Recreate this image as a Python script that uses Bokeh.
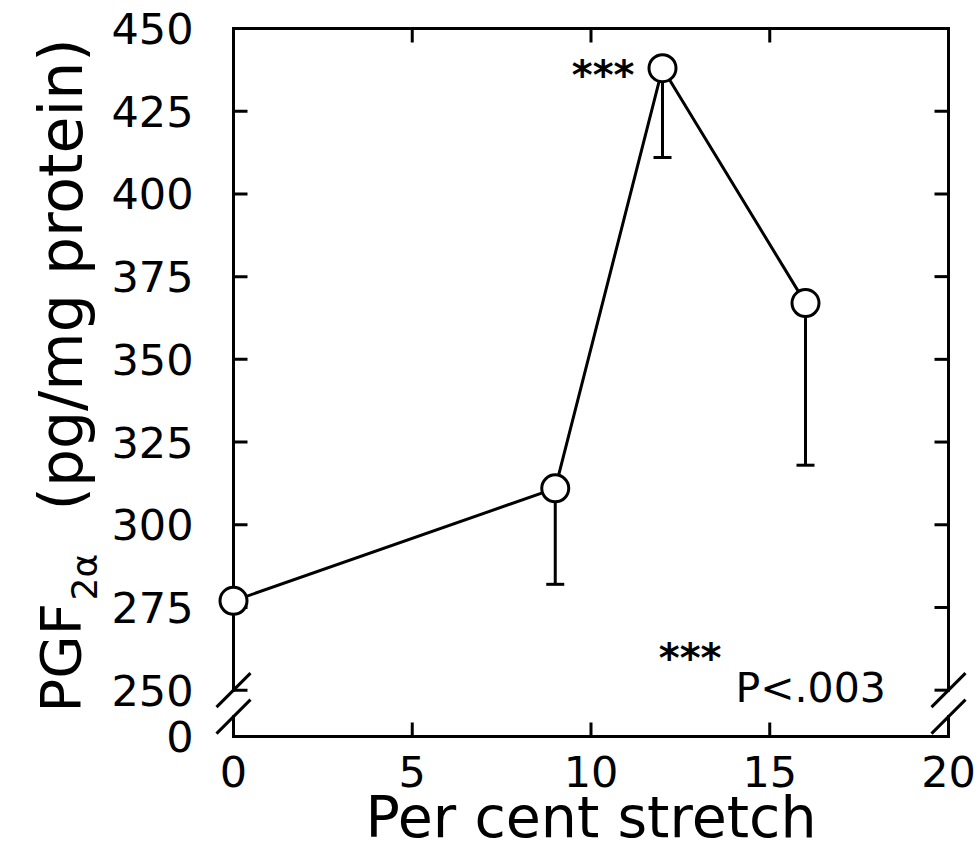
from math import pi

from bokeh.plotting import figure
from bokeh.models import Range1d, FixedTicker, Label, LinearAxis
from bokeh.core.properties import value
from bokeh.embed import file_html
from bokeh.resources import INLINE

# Mean PGF2α content at each stretch level and the lower end of its error bar
stretch = [0, 9, 12, 16]
pgf = [277, 311, 438, 367]
pgf_err_low = [277, 282, 411, 318]

x_ticks = [0, 5, 10, 15, 20]
y_ticks = [250, 275, 300, 325, 350, 375, 400, 425, 450]

X_MIN, X_MAX = 0, 20
Y_TOP = 450
Y_BREAK = 250      # lowest value on the continuous part of the y axis
Y_ZERO = 236       # plotting position of the "0" tick below the break
Y_RESUME = 242     # where the axis resumes under the break

# page geometry (pixels)
CANVAS_W, CANVAS_H = 979, 865
BOX_LEFT, BOX_TOP = 233, 28   # top-left corner of the boxed plot area
BOX_W, BOX_H = 715, 708

PX_X = BOX_W / (X_MAX - X_MIN)
PX_Y = BOX_H / (Y_TOP - Y_ZERO)

FONT = "DejaVu Sans"
INK = "black"
LW = 3


def at_x(px):
    """Page pixel column -> x data value."""
    return X_MIN + (px - BOX_LEFT) / PX_X


def at_y(py):
    """Page pixel row -> y data value."""
    return Y_TOP - (py - BOX_TOP) / PX_Y


# the frame fills the page; axes are pinned to the box edges
p = figure(
    frame_width=CANVAS_W,
    frame_height=CANVAS_H,
    x_range=Range1d(at_x(0), at_x(CANVAS_W)),
    y_range=Range1d(at_y(CANVAS_H), at_y(0)),
    x_axis_location=None,
    y_axis_location=None,
    min_border=0,
    output_backend="svg",
    toolbar_location=None,
    outline_line_color=None,
    background_fill_color="white",
    border_fill_color="white",
)
p.grid.visible = False

xa = LinearAxis(fixed_location=Y_ZERO, bounds=(X_MIN, X_MAX))
p.add_layout(xa, "below")
xa.ticker = FixedTicker(ticks=x_ticks)
xa.major_label_standoff = 19
xa.axis_label = "Per cent stretch"
xa.axis_label_text_font = FONT
xa.axis_label_text_font_size = "57px"
xa.axis_label_text_font_style = "normal"
xa.axis_label_text_color = INK
xa.axis_label_standoff = -6

ya = LinearAxis(fixed_location=X_MIN, bounds=(Y_ZERO, Y_TOP))
p.add_layout(ya, "left")
ya.ticker = FixedTicker(ticks=[Y_ZERO] + y_ticks)
ya.major_label_overrides = {Y_ZERO: "0"}
ya.major_label_standoff = 40

# axes carry the tick labels; the box, ticks and breaks are drawn below
for ax in (xa, ya):
    ax.axis_line_color = None
    ax.major_tick_line_color = None
    ax.minor_tick_line_color = None
    ax.major_tick_in = 0
    ax.major_tick_out = 0
    ax.minor_tick_in = 0
    ax.minor_tick_out = 0
    ax.major_label_text_font = FONT
    ax.major_label_text_font_size = "43px"
    ax.major_label_text_color = INK

# box: full top and bottom edges, sides broken between Y_RESUME and Y_BREAK
bx0 = [X_MIN, X_MIN, X_MIN, X_MIN, X_MAX, X_MAX]
by0 = [Y_TOP, Y_ZERO, Y_TOP, Y_RESUME, Y_TOP, Y_RESUME]
bx1 = [X_MAX, X_MAX, X_MIN, X_MIN, X_MAX, X_MAX]
by1 = [Y_TOP, Y_ZERO, Y_BREAK, Y_ZERO, Y_BREAK, Y_ZERO]
p.segment(bx0, by0, bx1, by1, line_width=LW, line_color=INK, line_cap="square")

# axis-break slashes on both sides
SL = 17
sx = [X_MIN, X_MIN, X_MAX, X_MAX]
sy = [Y_BREAK, Y_RESUME, Y_BREAK, Y_RESUME]
p.segment([x - SL / PX_X for x in sx], [y - SL / PX_Y for y in sy],
          [x + SL / PX_X for x in sx], [y + SL / PX_Y for y in sy],
          line_width=LW, line_color=INK)

# inward ticks on all four sides
TL = 14
tx = [v for v in x_ticks if X_MIN < v < X_MAX]
p.segment(tx, [Y_ZERO] * len(tx), tx, [Y_ZERO + TL / PX_Y] * len(tx),
          line_width=LW, line_color=INK)
p.segment(tx, [Y_TOP] * len(tx), tx, [Y_TOP - TL / PX_Y] * len(tx),
          line_width=LW, line_color=INK)
ty = [v for v in y_ticks if v < Y_TOP]
p.segment([X_MIN] * len(ty), ty, [X_MIN + TL / PX_X] * len(ty), ty,
          line_width=LW, line_color=INK)
p.segment([X_MAX] * len(ty), ty, [X_MAX - TL / PX_X] * len(ty), ty,
          line_width=LW, line_color=INK)

# data: connecting line, downward error bars, open circles
p.line(stretch, pgf, line_width=LW, line_color=INK)
bars = [i for i in range(len(stretch)) if pgf_err_low[i] < pgf[i]]
bar_x = [stretch[i] for i in bars]
p.segment(bar_x, [pgf[i] for i in bars], bar_x, [pgf_err_low[i] for i in bars],
          line_width=LW, line_color=INK)
p.scatter(bar_x, [pgf_err_low[i] for i in bars], marker="dash", size=18,
          line_width=LW, line_color=INK)
p.scatter(stretch, pgf, marker="circle", size=27, fill_color="white",
          line_color=INK, line_width=LW)

# significance marks
peak = pgf.index(max(pgf))
p.add_layout(Label(x=stretch[peak], y=pgf[peak] - 7 / PX_Y, x_offset=-28,
                   text="***", text_align="right", text_baseline="middle",
                   text_font=FONT, text_font_size="40px",
                   text_font_style="bold", text_color=INK))
p.add_layout(Label(x=at_x(721), y=at_y(657), text="***", text_align="right",
                   text_baseline="middle", text_font=FONT,
                   text_font_size="40px", text_font_style="bold",
                   text_color=INK))
p.add_layout(Label(x=at_x(735), y=at_y(687), text="P<.003", text_align="left",
                   text_baseline="alphabetic", text_font=FONT,
                   text_font_size="41px", text_color=INK))

# rotated y title: PGF with subscript 2α, then the unit
p.text(x=[at_x(60)], y=[at_y(712)], text=["PGF"], angle=pi / 2,
       text_align="left", text_baseline="alphabetic", text_font=value(FONT),
       text_font_size=value("56px"), text_color=INK)
p.text(x=[at_x(84)], y=[at_y(600)], text=["2α"], angle=pi / 2,
       text_align="left", text_baseline="alphabetic", text_font=value(FONT),
       text_font_size=value("36px"), text_color=INK)
p.text(x=[at_x(60)], y=[at_y(510)], text=["(pg/mg protein)"], angle=pi / 2,
       text_align="left", text_baseline="alphabetic", text_font=value(FONT),
       text_font_size=value("60px"), text_color=INK)

open("out.html", "w").write(file_html(p, INLINE))
